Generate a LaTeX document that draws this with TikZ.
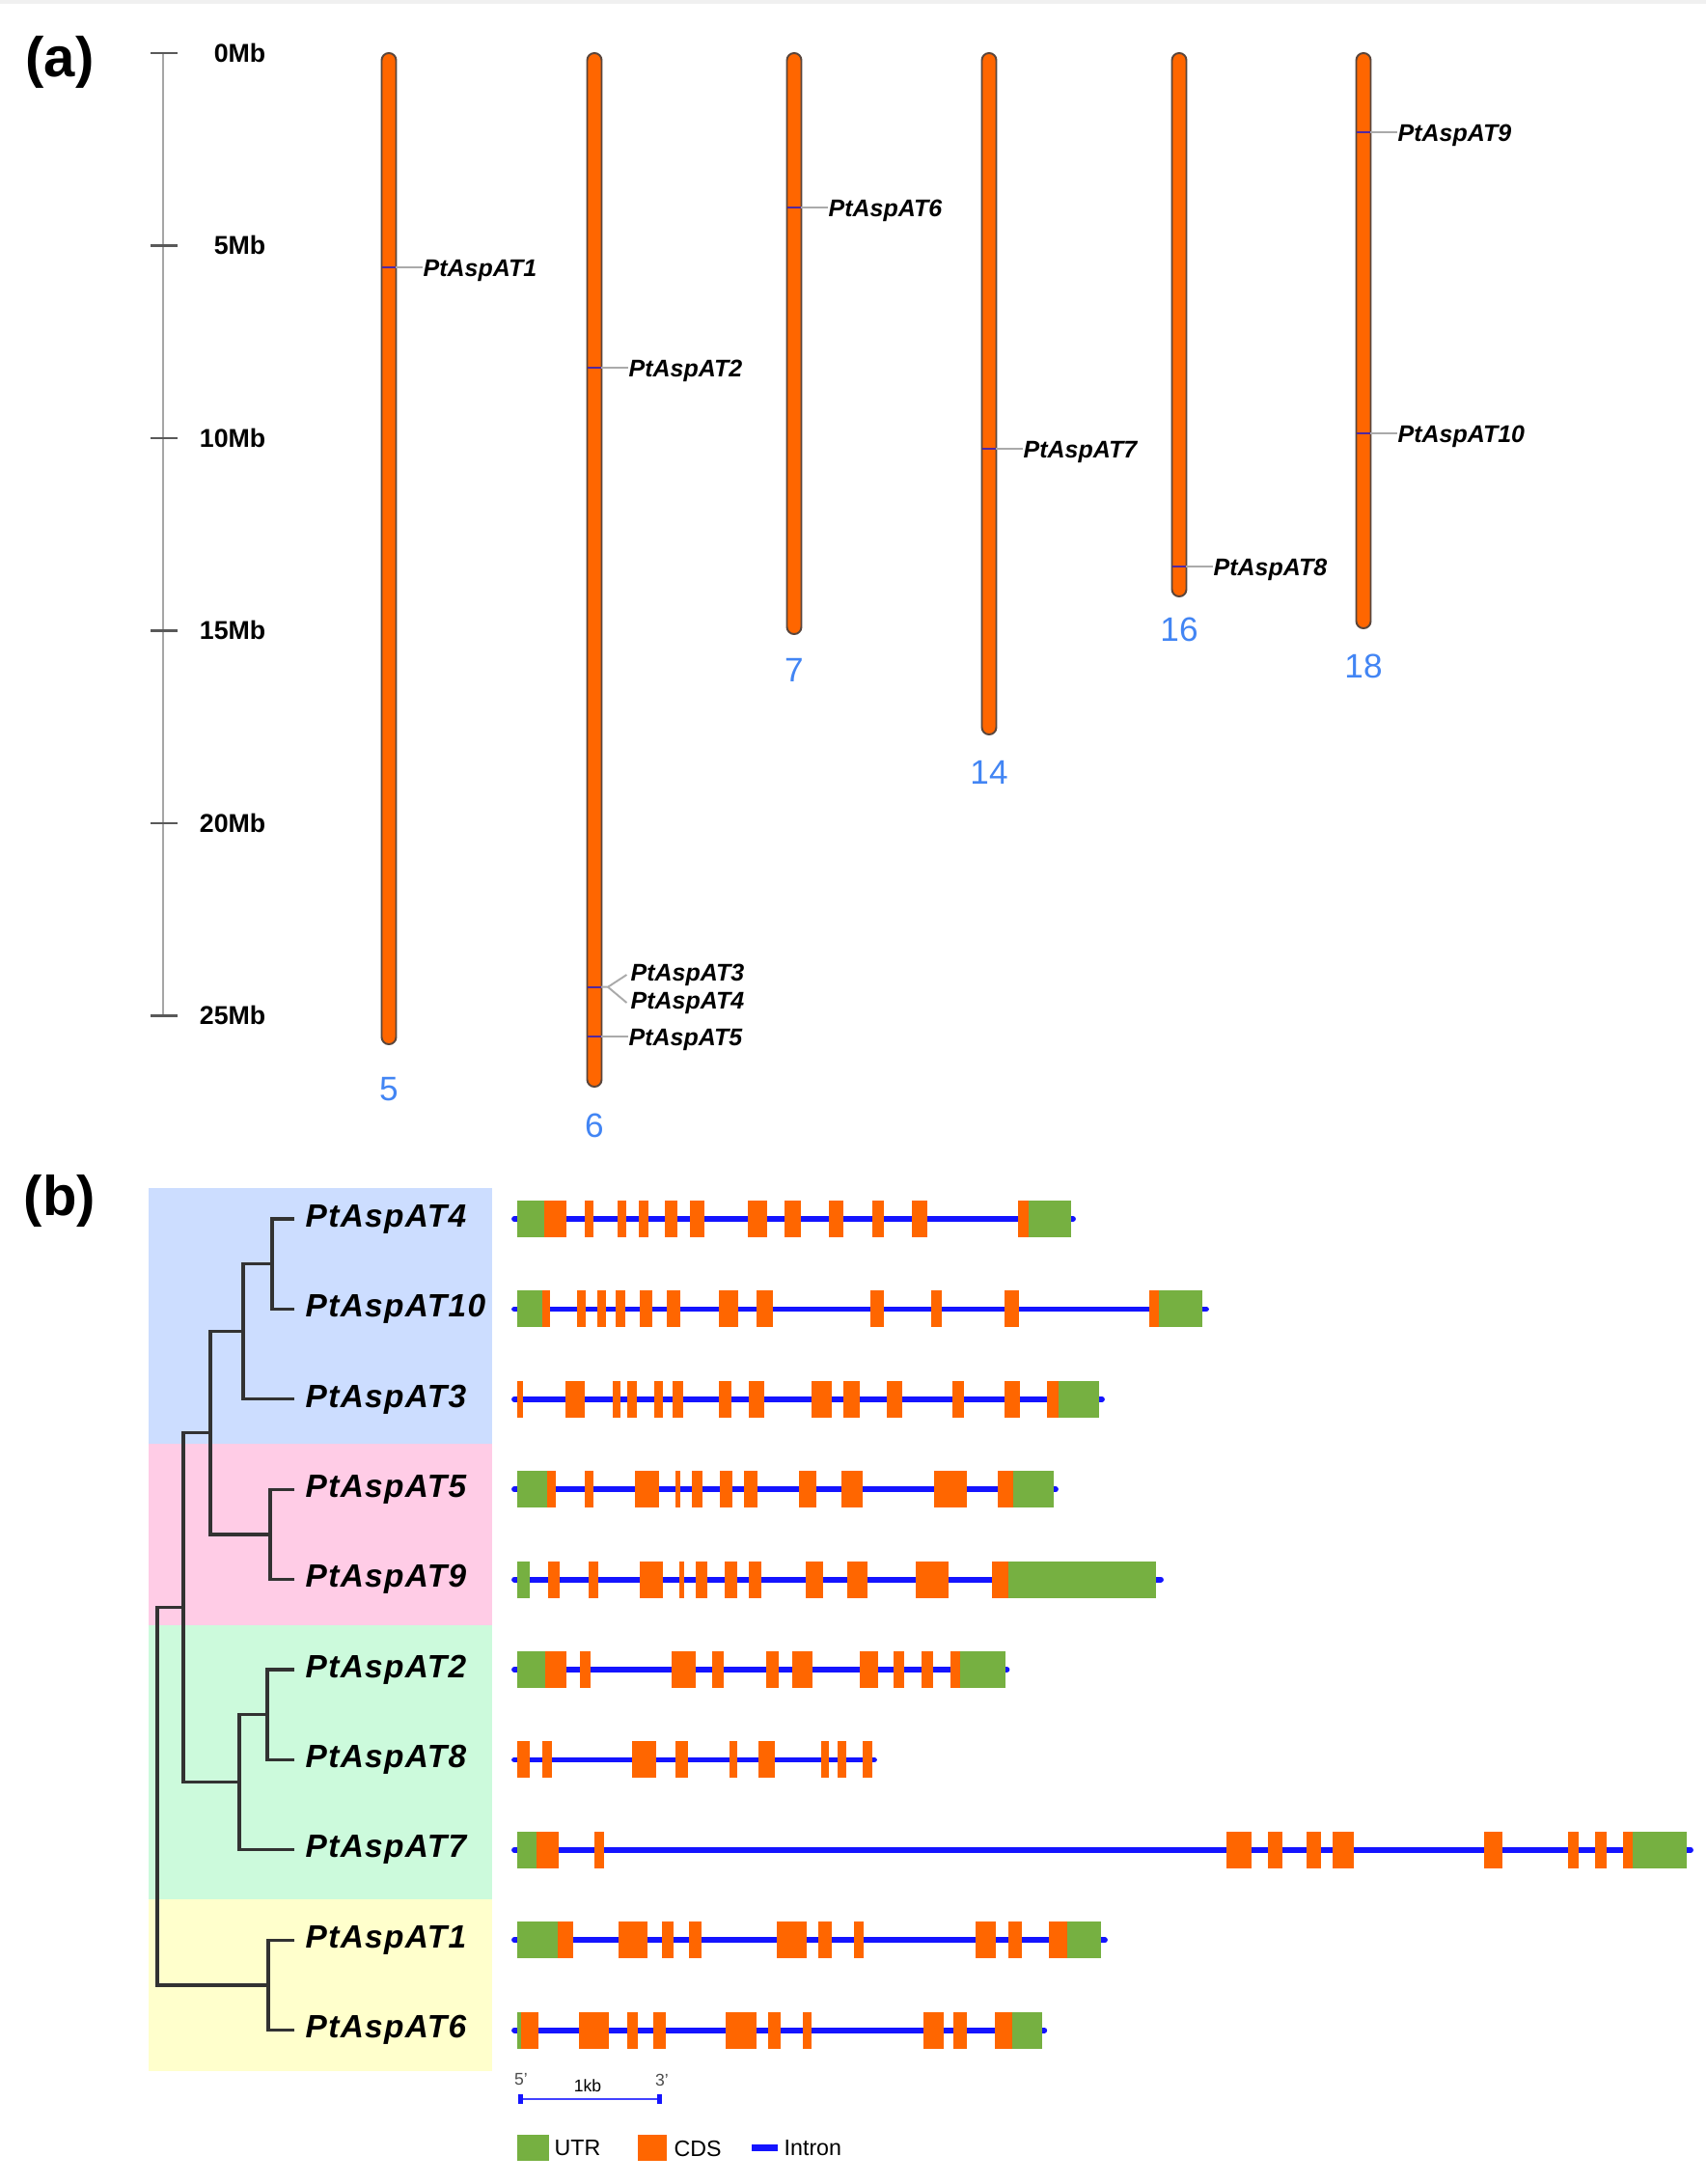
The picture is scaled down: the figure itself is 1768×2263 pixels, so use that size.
\documentclass[tikz,border=0pt]{standalone}
\usepackage{fontspec}
\setmainfont{Liberation Sans}
\setsansfont{Liberation Sans}
\definecolor{chrorange}{RGB}{255,102,0}
\definecolor{chredge}{RGB}{90,70,60}
\definecolor{utrgreen}{RGB}{118,176,65}
\definecolor{intronblue}{RGB}{20,20,255}
\definecolor{chrblue}{RGB}{66,133,244}
\definecolor{markpurple}{RGB}{80,40,160}
\definecolor{conngray}{RGB}{170,170,170}
\definecolor{cladeblue}{RGB}{204,221,255}
\definecolor{cladepink}{RGB}{255,204,230}
\definecolor{cladegreen}{RGB}{204,250,220}
\definecolor{cladeyellow}{RGB}{255,255,204}
\definecolor{treegray}{RGB}{50,50,50}
\newcommand\exonrow[3]{\foreach \ea/\eb in {#3} {\fill[#2] (\ea,#1-19) rectangle (\eb,#1+19);}}
\begin{document}
\begin{tikzpicture}[x=0.01cm,y=-0.01cm,
  chrom/.style={fill=chrorange,draw=chredge,line width=0.55pt,rounded corners=2.1pt},
  chrlab/.style={text=chrblue,font=\fontsize{10}{12}\selectfont,inner sep=0},
  glab/.style={anchor=west,inner sep=0,font=\fontsize{7.1}{8}\selectfont\bfseries\itshape},
  mblab/.style={anchor=east,inner sep=0,font=\fontsize{7.6}{9}\selectfont\bfseries},
  marker/.style={markpurple,line width=0.6pt},
  conn/.style={conngray,line width=0.55pt},
  axisline/.style={gray!70,line width=0.7pt},
  tickline/.style={black!65,line width=0.7pt},
  panel/.style={inner sep=0,font=\fontsize{16.5}{18}\selectfont\bfseries},
  tree/.style={treegray,line width=0.9pt},
  tlab/.style={anchor=west,inner sep=0,font=\fontsize{9.5}{11}\selectfont\bfseries\itshape\addfontfeature{LetterSpace=4}},
  intron/.style={intronblue,line width=1.65pt,line cap=round},
  utr/.style={fill=utrgreen},
  cds/.style={fill=chrorange},
  legtext/.style={anchor=west,inner sep=0,font=\fontsize{6.6}{8}\selectfont},
  smalltext/.style={inner sep=0,font=\fontsize{5}{6}\selectfont,text=black!70}
]
\useasboundingbox (0,0) rectangle (1768,2263);
\fill[white] (0,0) rectangle (1768,2263);
\fill[gray!12] (0,0) rectangle (1768,4);

% ---------------- (a) ----------------
\node[panel] (pa) at (62,64) {(a)};
\draw[axisline] (169,54.8) -- (169,1052.3);
\foreach \m in {0,5,10,15,20,25} {
  \pgfmathsetmacro\yy{54.8+39.9*\m}
  \draw[tickline] (156,\yy) -- (184,\yy);
  \node[mblab] (mb\m) at (276,\yy) {\m Mb};
}
\foreach \nm/\x/\b/\ly/\lab in {c5/403/1082/1129/5, c6/616/1126/1166/6, c7/823/657/694/7, c14/1025/761/800/14, c16/1222/618/652/16, c18/1413/651/690/18} {
  \draw[chrom] (\x-7.5,55) rectangle (\x+7.5,\b);
  \node[chrlab] (\nm) at (\x,\ly) {\lab};
}
\foreach \g/\x/\y in {1/403/277, 2/616/381, 6/823/215, 7/1025/465, 8/1222/587, 9/1413/137, 10/1413/449, 5/616/1074} {
  \draw[marker] (\x-7,\y) -- (\x+7,\y);
  \coordinate (m\g) at (\x+7,\y);
  \node[glab] (g\g) at (\x+35,\y+3) {PtAspAT\g};
  \draw[conn] (m\g) -- (m\g -| g\g.west);
}
% PtAspAT3 / PtAspAT4
\draw[marker] (609,1022.7) -- (623,1022.7);
\coordinate (m34) at (623,1022.7);
\coordinate (k34) at (630,1022.7);
\node[glab] (g3) at (653,1010) {PtAspAT3};
\node[glab] (g4) at (653,1039) {PtAspAT4};
\draw[conn] (m34) -- (k34) -- ([xshift=-1pt]g3.west);
\draw[conn] (k34) -- ([xshift=-1pt]g4.west);

% ---------------- (b) ----------------
\node[panel] (pb) at (62,1244) {(b)};
\fill[cladeblue] (154,1231) rectangle (510,1496);
\fill[cladepink] (154,1496) rectangle (510,1684);
\fill[cladegreen] (154,1684) rectangle (510,1968);
\fill[cladeyellow] (154,1968) rectangle (510,2146);

% leaves
\foreach \i/\g in {0/4,1/10,2/3,3/5,4/9,5/2,6/8,7/7,8/1,9/6} {
  \pgfmathsetmacro\ly{1263+93.4*\i}
  \coordinate (l\g) at (305,\ly);
  \node[tlab] (t\g) at (316,\ly) {PtAspAT\g};
}
% internal nodes
\coordinate (nA) at (282,1309.7);
\coordinate (nB) at (252,1379.8);
\coordinate (nC) at (280,1589.9);
\coordinate (nD) at (218,1484.8);
\coordinate (nE) at (277,1776.7);
\coordinate (nF) at (248,1846.8);
\coordinate (nG) at (190,1665.8);
\coordinate (nH) at (278,2056.9);
\coordinate (nR) at (163,1861.4);
\draw[tree] (nA) |- (l4);  \draw[tree] (nA) |- (l10);
\draw[tree] (nB) |- (nA);  \draw[tree] (nB) |- (l3);
\draw[tree] (nC) |- (l5);  \draw[tree] (nC) |- (l9);
\draw[tree] (nD) |- (nB);  \draw[tree] (nD) |- (nC);
\draw[tree] (nE) |- (l2);  \draw[tree] (nE) |- (l8);
\draw[tree] (nF) |- (nE);  \draw[tree] (nF) |- (l7);
\draw[tree] (nG) |- (nD);  \draw[tree] (nG) |- (nF);
\draw[tree] (nH) |- (l1);  \draw[tree] (nH) |- (l6);
\draw[tree] (nR) |- (nG);  \draw[tree] (nR) |- (nH);

% gene structures
% AT4
\draw[intron] (533,1263) -- (1112,1263);
\exonrow{1263}{utr}{536/564,1066/1110}
\exonrow{1263}{cds}{564/587,606/615,640/649,662/672,689/702,715/730,775/795,813/830,859/874,904/916,945/961,1055/1066}
% AT10
\draw[intron] (533,1356.4) -- (1250,1356.4);
\exonrow{1356.4}{utr}{536/562,1201/1246}
\exonrow{1356.4}{cds}{562/570,598/607,619/627.5,638/648,663/676,690.5/705,744.5/765,783.5/801,901.5/915.7,964.5/976,1041/1056,1191/1201}
% AT3
\draw[intron] (533,1449.8) -- (1142,1449.8);
\exonrow{1449.8}{utr}{1096.5/1139}
\exonrow{1449.8}{cds}{535.7/542,586/606,635/643,650/659.5,678/687,697/708,745/758,775.5/791.5,841/861.5,874/891,918.5/934.5,986.5/999,1040.5/1056.5,1085/1096.5}
% AT5
\draw[intron] (533,1543.2) -- (1094,1543.2);
\exonrow{1543.2}{utr}{535.7/567,1050/1091.5}
\exonrow{1543.2}{cds}{567/576,606/615,658/682.5,700/705,717/728,745.5/759,771/784.7,827.5/846,872/894,967.5/1002.4,1034/1050}
% AT9
\draw[intron] (533,1636.6) -- (1203,1636.6);
\exonrow{1636.6}{utr}{535.7/549,1044.5/1198}
\exonrow{1636.6}{cds}{568/580,610/619.5,662.5/687,703.5/709,721/733,751/763.7,775.5/789.3,834.7/853,878/899,949/983,1028/1044.5}
% AT2
\draw[intron] (533,1730) -- (1043.5,1730);
\exonrow{1730}{utr}{535.6/564.7,995/1042}
\exonrow{1730}{cds}{564.7/586.5,601/611.6,695.7/720.8,737.8/750,794.4/807.3,821/842,890.6/910,926/936.7,955.3/966.6,985.2/995}
% AT8
\draw[intron] (533,1823.4) -- (906,1823.4);
\exonrow{1823.4}{cds}{535.6/548.5,562.3/572,654.5/680.3,699.7/712.7,755.5/763.6,786.3/802.5,851/859,868/876.8,893.8/903.5}
% AT7
\draw[intron] (533,1916.8) -- (1752,1916.8);
\exonrow{1916.8}{utr}{535.6/555.8,1692/1748}
\exonrow{1916.8}{cds}{555.8/579.3,615.6/626.2,1270.7/1297.4,1314.4/1329,1354/1369.4,1380.7/1402.5,1537.6/1557,1625/1636.2,1653/1665.3,1682.3/1692}
% AT1
\draw[intron] (533,2010.2) -- (1145,2010.2);
\exonrow{2010.2}{utr}{535.6/577.6,1105.7/1141.3}
\exonrow{2010.2}{cds}{577.6/593.8,640.7/670.6,686/698,714.3/727.2,804.9/836.4,847.7/861.5,885/894.6,1011/1032,1045/1058.8,1087/1105.7}
% AT6
\draw[intron] (533,2103.6) -- (1082.3,2103.6);
\exonrow{2103.6}{utr}{535.6/540.4,1049/1079.8}
\exonrow{2103.6}{cds}{540.4/558.2,600.3/631,649.6/661,677/690,751.5/783.9,796/809,831.6/840.5,957/978,987.6/1002.2,1031.3/1049}

% scale bar
\node[smalltext] (p5) at (540,2155) {5'};
\node[smalltext] (p3) at (686,2155) {3'};
\node[smalltext,text=black] (kb) at (609,2161) {1kb};
\coordinate (sb1) at (539,2175);
\coordinate (sb2) at (683,2175);
\draw[intronblue!80,line width=0.6pt] (sb1) -- (sb2);
\fill[intronblue] (536.5,2170) rectangle (541.5,2180);
\fill[intronblue] (680.5,2170) rectangle (685.5,2180);

% legend
\fill[utrgreen] (536,2212) rectangle (569,2239);
\node[legtext] (lu) at (574,2226) {UTR};
\fill[chrorange] (661,2212) rectangle (691,2239);
\node[legtext] (lc) at (698,2226) {CDS};
\draw[intronblue,line width=2pt] (779,2225) -- (806,2225);
\node[legtext] (li) at (812,2226) {Intron};
\end{tikzpicture}
\end{document}
